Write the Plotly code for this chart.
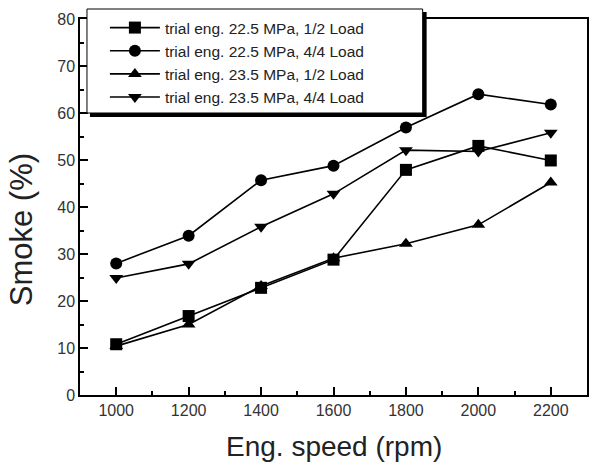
import plotly.graph_objects as go

speed = [1000, 1200, 1400, 1600, 1800, 2000, 2200]
s_225_half = [10.8, 16.8, 22.8, 28.8, 47.9, 53.0, 49.9]
s_225_full = [28.0, 33.9, 45.7, 48.8, 56.9, 64.0, 61.8]
s_235_half = [10.4, 15.0, 23.2, 29.1, 32.2, 36.2, 45.2]
s_235_full = [24.9, 27.9, 35.8, 42.8, 52.1, 51.8, 55.8]
names = ["trial eng. 22.5 MPa, 1/2 Load",
         "trial eng. 22.5 MPa, 4/4 Load",
         "trial eng. 23.5 MPa, 1/2 Load",
         "trial eng. 23.5 MPa, 4/4 Load"]
series = [s_225_half, s_225_full, s_235_half, s_235_full]
symbols = ["square", "circle", "triangle-up", "triangle-down"]
x_title = "Eng. speed (rpm)"
y_title = "Smoke (%)"

W, H = 593, 466
ML, MR, MT, MB = 80, 4, 19, 71
PW, PH = W - ML - MR, H - MT - MB
FONT = "Arial, Liberation Sans, sans-serif"

def px(x):
    return (x - ML) / PW

def py(y):
    return (H - MB - y) / PH

fig = go.Figure()
for name, vals, sym in zip(names, series, symbols):
    fig.add_trace(go.Scatter(
        x=speed, y=vals, name=name, mode="lines+markers",
        line=dict(color="black", width=1.6),
        marker=dict(symbol=sym, size=12, color="black"),
    ))

shapes = [
    # drop shadow as an L-shaped filled path
    dict(type="path", xref="paper", yref="paper", layer="above",
         path=(f"M {px(424)} {py(12)} L {px(428)} {py(12)} L {px(428)} {py(117)} "
               f"L {px(90)} {py(117)} L {px(90)} {py(113)} L {px(424)} {py(113)} Z"),
         fillcolor="black", line=dict(width=0)),
    # legend box
    dict(type="rect", xref="paper", yref="paper", layer="above",
         x0=px(87), x1=px(424), y0=py(9), y1=py(113),
         fillcolor="white", line=dict(color="black", width=1)),
]

annotations = [
    dict(text=x_title, xref="paper", yref="paper", x=px(335), y=py(446),
         xanchor="center", yanchor="middle", showarrow=False,
         font=dict(size=28, color="#222")),
    dict(text=y_title, xref="paper", yref="paper", x=px(21), y=py(230),
         xanchor="center", yanchor="middle", showarrow=False, textangle=-90,
         font=dict(size=31, color="#222")),
]

fig.update_layout(
    width=W, height=H,
    margin=dict(l=ML, r=MR, t=MT, b=MB),
    paper_bgcolor="white", plot_bgcolor="white",
    font=dict(family=FONT, color="#222"),
    shapes=shapes,
    annotations=annotations,
    showlegend=True,
    legend=dict(x=px(105), y=py(11), xanchor="left", yanchor="top",
                bgcolor="rgba(0,0,0,0)", borderwidth=0,
                font=dict(size=15.5, color="#222"), itemwidth=50,
                tracegroupgap=0),
)
fig.update_xaxes(
    range=[900, 2300], tickmode="linear", tick0=1000, dtick=200,
    ticks="inside", ticklen=8, tickwidth=1.5, tickcolor="black",
    minor=dict(ticks="inside", ticklen=4, dtick=100, tick0=1000, tickwidth=1.5, tickcolor="black"),
    showline=True, linecolor="black", linewidth=1.5, mirror=True,
    showgrid=False, zeroline=False,
    tickfont=dict(size=16, color="#333"),
)
fig.update_yaxes(
    range=[0, 80], tickmode="linear", tick0=0, dtick=10,
    ticks="inside", ticklen=8, tickwidth=1.5, tickcolor="black",
    minor=dict(ticks="inside", ticklen=4, dtick=5, tick0=0, tickwidth=1.5, tickcolor="black"),
    showline=True, linecolor="black", linewidth=1.5, mirror=True,
    showgrid=False, zeroline=False,
    tickfont=dict(size=16, color="#333"),
)

fig.write_html("out.html")
